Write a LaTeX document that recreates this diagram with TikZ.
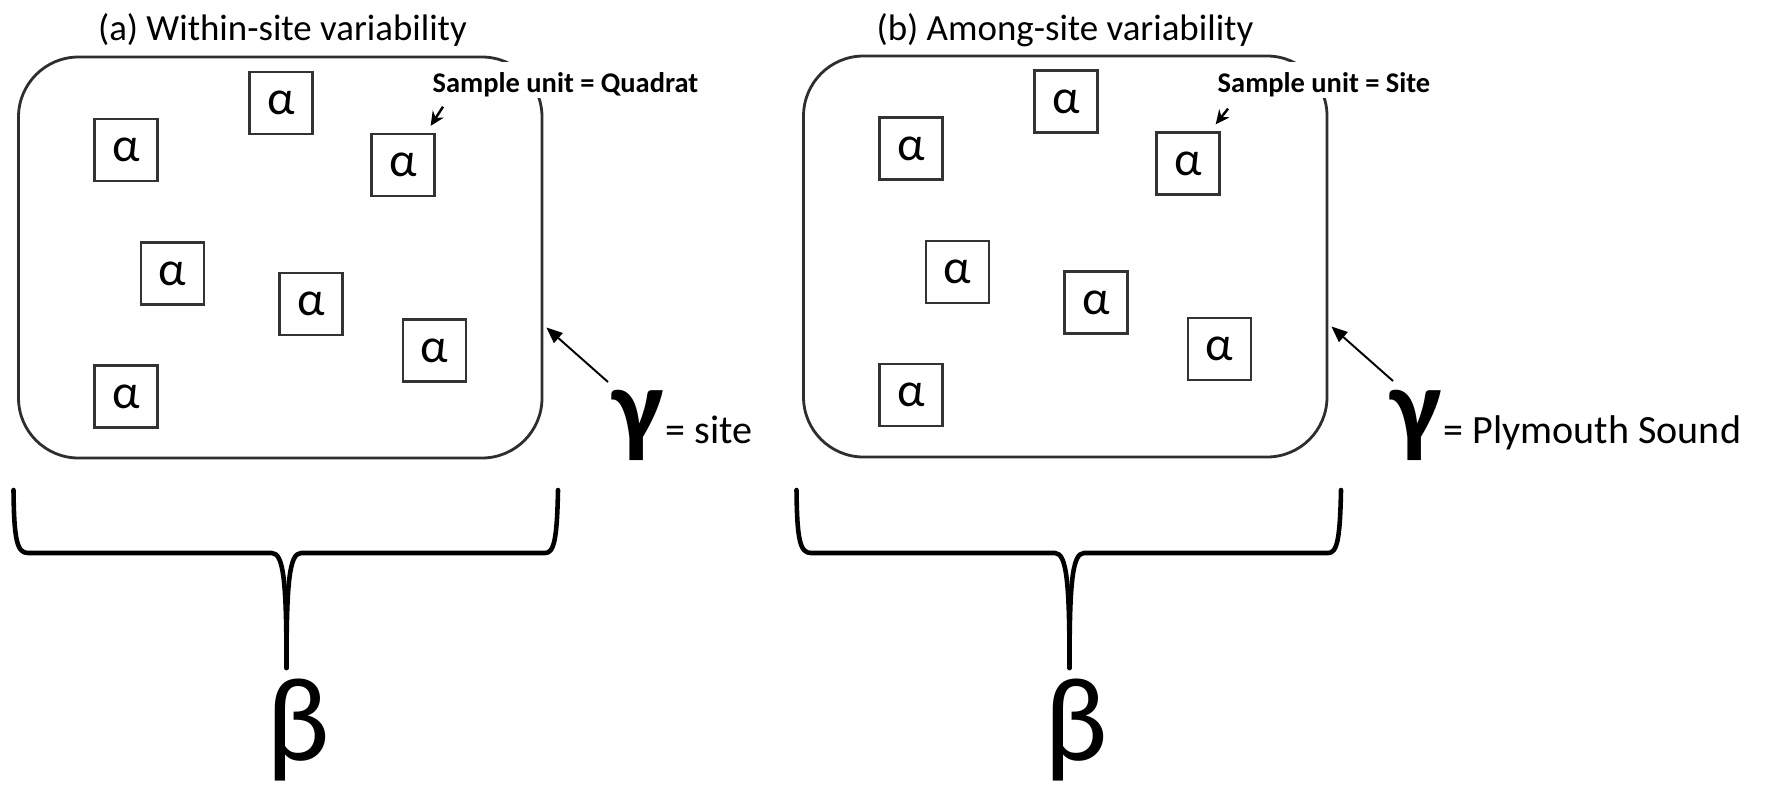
\documentclass[tikz,border=0pt]{standalone}
\usepackage{fontspec}
\setmainfont{Carlito}
\usetikzlibrary{arrows.meta}
\begin{document}
\begin{tikzpicture}[x=0.1mm,y=-0.1mm,
  site/.style={draw=black!82, line width=0.8pt, rounded corners=6mm,
    minimum width=52.35mm, minimum height=40.1mm, inner sep=0pt},
  quad/.style={draw=black!80, line width=0.65pt, minimum width=6.3mm,
    minimum height=6.2mm, inner sep=0pt, font=\fontsize{13.8}{14}\selectfont},
  paneltitle/.style={font=\fontsize{10.5}{12}\selectfont, anchor=base, inner sep=0pt},
  unitlbl/.style={font=\bfseries\fontsize{8.1}{9}\selectfont, fill=white,
    anchor=base west, inner xsep=1mm, inner ysep=0pt, text height=3mm, text depth=0.6mm},
  unitarrow/.style={line width=0.7pt, -{Stealth[length=1.4mm,width=1.3mm]}},
  gammalbl/.style={font=\bfseries\fontsize{31}{31}\selectfont, anchor=base east, inner sep=0pt},
  scalelbl/.style={font=\fontsize{11.4}{12}\selectfont, anchor=base west, inner sep=0pt},
  gammaarrow/.style={line width=0.55pt, -{Triangle[length=1.6mm,width=1.3mm]}},
  bracket/.style={line width=1.3pt, line cap=round, line join=round},
  betalbl/.style={font=\fontsize{34}{34}\selectfont, anchor=base, inner sep=0pt}
]
\useasboundingbox (0,0) rectangle (1769,787);

% ---------- (a) within-site variability ----------
\node[paneltitle] (tA) at (282.5,40) {(a) Within-site variability};
\node[site] (boxA) at (280.25,257.5) {};
\foreach \n/\px/\py in {1/281/103, 2/126/150, 3/403/165, 4/172.5/273.5,
                        5/311/304, 6/434.5/350.5, 7/126/396.5}
  \node[quad] (qA\n) at (\px,\py) {α};
\node[unitlbl] (uA) at (422,92) {Sample unit = Quadrat};
\draw[unitarrow] ([shift={(21,8)}]uA.south west) -- ([shift={(-5,-7)}]qA3.north east);
\node[gammalbl] (gA) at (664,443) {γ};
\node[scalelbl] (sA) at (665,443) {= site};
\coordinate (gtA) at (608,382);
\draw[gammaarrow] (gtA) -- ([shift={(3,70)}]boxA.east);
\draw[bracket] (13.5,490) .. controls (14,540) and (17,553) .. (28,553)
  -- (272,553) .. controls (284,553) and (286.5,585) .. (286.5,668);
\draw[bracket] (558,490) .. controls (557,540) and (554,553) .. (545,553)
  -- (301,553) .. controls (289,553) and (286.5,585) .. (286.5,668);
\node[betalbl] (bA) at (298,760) {β};

% ---------- (b) among-site variability ----------
\node[paneltitle] (tB) at (1065,40) {(b) Among-site variability};
\node[site] (boxB) at (1065.25,256.5) {};
\foreach \n/\px/\py in {1/281/103, 2/126/150, 3/403/165, 4/172.5/273.5,
                        5/311/304, 6/434.5/350.5, 7/126/396.5}
  \node[quad] (qB\n) at (\px+785,\py-1.5) {α};
\node[unitlbl] (uB) at (1207,92) {Sample unit = Site};
\draw[unitarrow] ([shift={(21,10)}]uB.south west) -- ([shift={(-5,-7)}]qB3.north east);
\node[gammalbl] (gB) at (1442,443) {γ};
\node[scalelbl] (sB) at (1443,443) {= Plymouth Sound};
\coordinate (gtB) at (1393,381);
\draw[gammaarrow] (gtB) -- ([shift={(3,70)}]boxB.east);
\draw[bracket] (796.5,490) .. controls (797,540) and (800,553) .. (811,553)
  -- (1055,553) .. controls (1067,553) and (1069.5,585) .. (1069.5,668);
\draw[bracket] (1341,490) .. controls (1340,540) and (1337,553) .. (1328,553)
  -- (1084,553) .. controls (1072,553) and (1069.5,585) .. (1069.5,668);
\node[betalbl] (bB) at (1076,760) {β};
\end{tikzpicture}
\end{document}
